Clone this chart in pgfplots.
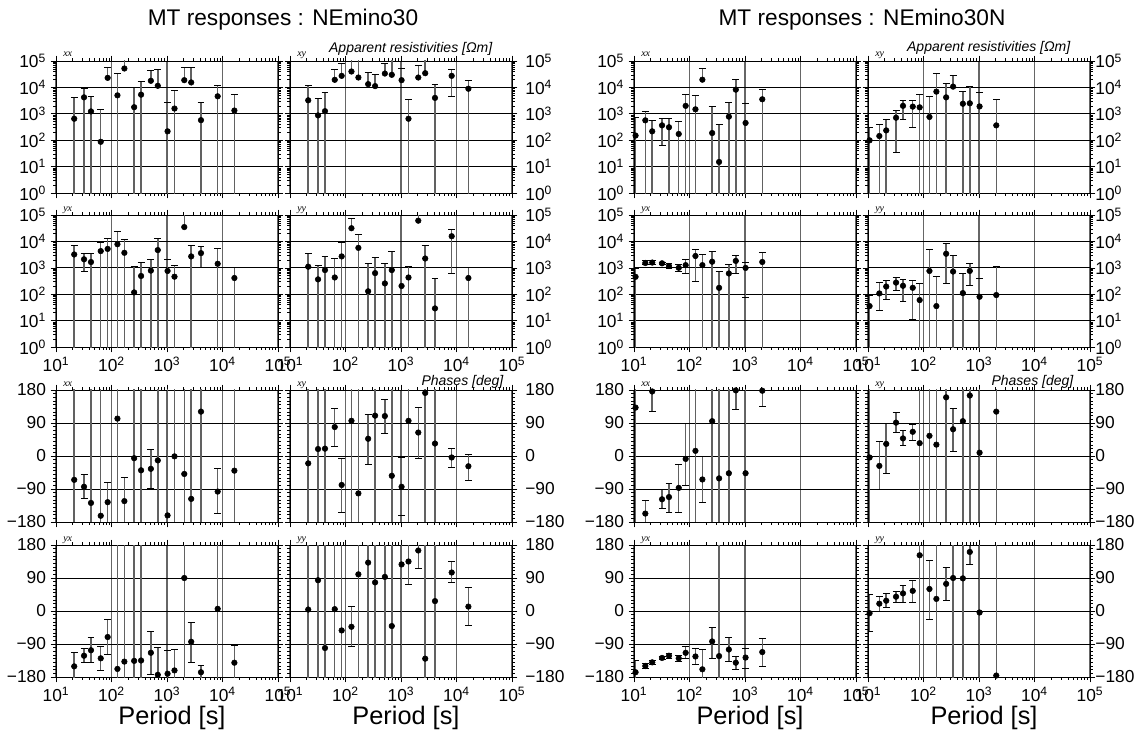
\documentclass[border=0pt]{standalone}
\usepackage{fontspec}
\setmainfont{Liberation Sans}
\newfontfamily\lserif{Liberation Serif}
\usepackage{pgfplots}
\pgfplotsset{compat=1.18}
\newcommand{\sq}[1]{10\textsuperscript{#1}}
\pgfplotsset{
 every axis/.append style={xmode=log, xmin=10, xmax=100000, xtick={10,100,1000,10000,100000},
   scale only axis, width=166.5pt, height=99pt,
   grid=major, x grid style={black!60, line width=0.9pt}, y grid style={black, line width=0.6pt},
   axis line style={black, line width=0.7pt},
   tick align=outside, major tick length=4pt, minor tick length=2.2pt,
   tick style={black, line width=0.45pt},
   tick label style={font=\fontsize{13}{14}\selectfont},
   cycle list={{black, mark=*, mark options={fill=black, draw=black}}},
   xticklabels={}, clip=true},
 every axis plot/.append style={only marks, mark=*, mark size=2.1pt,
   error bars/y dir=both, error bars/y explicit, error bars/error mark=|,
   error bars/error bar style={black!62, line width=1.1pt},
   error bars/error mark options={black, line width=0.6pt, mark size=2.6pt}},
 every axis plot post/.append style={black, mark options={fill=black, draw=black}},
}
\begin{document}
\begin{tikzpicture}
\path[use as bounding box] (0,0) rectangle (852pt,-551.25pt);
% ================= LEFT GROUP =================
\begin{axis}[ymode=log,ymin=1,ymax=100000,ytick={1,10,100,1000,10000,100000},yticklabels={\sq{0},\sq{1},\sq{2},\sq{3},\sq{4},\sq{5}},
  yticklabel pos=left,at={(42pt,-45.75pt)},anchor=north west]
\addplot table[x=T,y=v,y error plus expr=\thisrow{hi}-\thisrow{v},y error minus expr=\thisrow{v}-\thisrow{lo}] {
T v lo hi
21.3 650 0.001 4300
32 4200 0.001 9000
42.7 1230 0.001 4600
64 87 0.001 1500
85.3 23000 0.001 58000
128 5000 0.001 33000
170.7 52000 0.001 1e7
256 1780 0.001 10000
341.3 5300 0.001 17000
512 17800 0.001 43000
682.7 11500 0.001 49000
1024 217 0.001 2700
1365 1580 0.001 7700
2048 18800 0.001 58000
2731 15400 0.001 58000
4096 575 0.001 2800
8192 4600 0.001 12300
16384 1330 0.001 5200
};
\end{axis}
\begin{axis}[ymode=log,ymin=1,ymax=100000,ytick={1,10,100,1000,10000,100000},yticklabels={\sq{0},\sq{1},\sq{2},\sq{3},\sq{4},\sq{5}},
  yticklabel pos=right,yticklabel style={xshift=2.5pt},at={(217.5pt,-45.75pt)},anchor=north west]
\addplot table[x=T,y=v,y error plus expr=\thisrow{hi}-\thisrow{v},y error minus expr=\thisrow{v}-\thisrow{lo}] {
T v lo hi
21.3 3250 0.001 12300
32 870 0.001 4000
42.7 1260 0.001 6700
64 19400 0.001 49000
85.3 27400 0.001 82000
128 40000 0.001 1e7
170.7 23700 0.001 1e7
256 13300 0.001 37000
341.3 11200 0.001 31600
512 33500 0.001 82000
682.7 30000 0.001 1e7
1024 18800 0.001 52000
1365 650 0.001 3650
2048 23700 0.001 69000
2731 34500 0.001 1e7
4096 4000 0.001 13300
8192 27400 4700 49000
16384 8900 0.001 18400
};
\end{axis}
\begin{axis}[ymode=log,ymin=1,ymax=100000,ytick={1,10,100,1000,10000,100000},yticklabels={\sq{0},\sq{1},\sq{2},\sq{3},\sq{4},\sq{5}},
  xticklabels={\sq{1},\sq{2},\sq{3},\sq{4},\sq{5}},
  yticklabel pos=left,at={(42pt,-161.25pt)},anchor=north west]
\addplot table[x=T,y=v,y error plus expr=\thisrow{hi}-\thisrow{v},y error minus expr=\thisrow{v}-\thisrow{lo}] {
T v lo hi
21.3 3200 0.001 6900
32 2100 760 3500
42.7 1650 0.001 3500
64 4300 0.001 9300
85.3 5200 0.001 12500
128 7800 0.001 23500
170.7 3700 0.001 11800
256 117 0.001 1120
341.3 490 0.001 1650
512 780 0.001 2100
682.7 4700 0.001 12500
1024 760 0.001 2100
1365 460 0.001 1240
2048 35000 0.001 1e7
2731 2700 0.001 6900
4096 3600 1000 6200
8192 1420 0.001 5200
16384 410 0.001 1000
};
\end{axis}
\begin{axis}[ymode=log,ymin=1,ymax=100000,ytick={1,10,100,1000,10000,100000},yticklabels={\sq{0},\sq{1},\sq{2},\sq{3},\sq{4},\sq{5}},
  xticklabels={\sq{1},\sq{2},\sq{3},\sq{4},\sq{5}},
  yticklabel pos=right,yticklabel style={xshift=2.5pt},at={(217.5pt,-161.25pt)},anchor=north west]
\addplot table[x=T,y=v,y error plus expr=\thisrow{hi}-\thisrow{v},y error minus expr=\thisrow{v}-\thisrow{lo}] {
T v lo hi
21.3 1100 0.001 3500
32 365 0.001 1200
42.7 820 0.001 2600
64 430 0.001 2200
85.3 2700 0.001 9300
128 31600 0.001 75000
170.7 5700 0.001 19000
256 129 0.001 1470
341.3 630 0.001 2400
512 256 0.001 1470
682.7 820 0.001 4300
1024 205 0.001 1000
1365 430 0.001 1170
2048 61000 0.001 1e7
2731 2250 0.001 6900
4096 29 0.001 390
8192 15700 620 29000
16384 410 0.001 1000
};
\end{axis}
\begin{axis}[ymin=-180,ymax=180,ytick={-180,-90,0,90,180},minor y tick num=8,yticklabels={−180,−90,0,90,180},
  yticklabel pos=left,at={(42pt,-292.5pt)},anchor=north west]
\addplot table[x=T,y=v,y error plus expr=\thisrow{hi}-\thisrow{v},y error minus expr=\thisrow{v}-\thisrow{lo}] {
T v lo hi
21.3 -65 -999 999
32 -84 -117 -50
42.7 -128 -999 999
64 -163 -999 999
85.3 -126 -182 -72
128 102 -999 999
170.7 -123 -999 -58
256 -6 -999 999
341.3 -39 -999 999
512 -35 -89 17
682.7 -12 -999 999
1024 -162 -999 999
1365 -1 -999 999
2048 -49 -999 999
2731 -117 -999 999
4096 121 -999 999
8192 -97 -156 -35
16384 -40 -999 999
};
\end{axis}
\begin{axis}[ymin=-180,ymax=180,ytick={-180,-90,0,90,180},minor y tick num=8,yticklabels={−180,−90,0,90,180},
  yticklabel pos=right,yticklabel style={xshift=2.5pt},at={(217.5pt,-292.5pt)},anchor=north west]
\addplot table[x=T,y=v,y error plus expr=\thisrow{hi}-\thisrow{v},y error minus expr=\thisrow{v}-\thisrow{lo}] {
T v lo hi
21.3 -20 -999 999
32 19 -999 999
42.7 20 -999 999
64 79 25 130
85.3 -79 -153 -6
128 96 -999 999
170.7 -102 -999 999
256 47 -23 113
341.3 110 -999 999
512 109 61 154
682.7 -54 -999 999
1024 -84 -163 -3
1365 96 -999 999
2048 64 -6 133
2731 172 -999 999
4096 34 -999 999
8192 -4 -30 20
16384 -28 -67 4
};
\end{axis}
\begin{axis}[ymin=-180,ymax=180,ytick={-180,-90,0,90,180},minor y tick num=8,yticklabels={−180,−90,0,90,180},
  xticklabels={\sq{1},\sq{2},\sq{3},\sq{4},\sq{5}},
  yticklabel pos=left,at={(42pt,-408.75pt)},anchor=north west]
\addplot table[x=T,y=v,y error plus expr=\thisrow{hi}-\thisrow{v},y error minus expr=\thisrow{v}-\thisrow{lo}] {
T v lo hi
21.3 -151 -999 -112
32 -122 -141 -103
42.7 -107 -141 -73
64 -129 -162 -97
85.3 -71 -117 -23
128 -158 -999 999
170.7 -138 -999 999
256 -136 -999 999
341.3 -135 -999 999
512 -114 -172 -56
682.7 -174 -999 -100
1024 -171 -999 -107
1365 -162 -999 -104
2048 90 -999 999
2731 -84 -139 -30
4096 -167 -999 -148
8192 6 -999 999
16384 -141 -999 -95
};
\end{axis}
\begin{axis}[ymin=-180,ymax=180,ytick={-180,-90,0,90,180},minor y tick num=8,yticklabels={−180,−90,0,90,180},
  xticklabels={\sq{1},\sq{2},\sq{3},\sq{4},\sq{5}},
  yticklabel pos=right,yticklabel style={xshift=2.5pt},at={(217.5pt,-408.75pt)},anchor=north west]
\addplot table[x=T,y=v,y error plus expr=\thisrow{hi}-\thisrow{v},y error minus expr=\thisrow{v}-\thisrow{lo}] {
T v lo hi
21.3 4 -999 999
32 84 -999 999
42.7 -101 -999 999
64 5 -999 999
85.3 -53 -999 999
128 -43 -97 12
170.7 100 -999 999
256 132 -999 999
341.3 78 -999 999
512 93 -999 999
682.7 -41 -999 999
1024 127 -999 999
1365 135 73 181
2048 165 117 999
2731 -130 -999 999
4096 27 -999 999
8192 105 77 134
16384 12 -40 64
};
\end{axis}
% ================= RIGHT GROUP =================
\begin{axis}[ymode=log,ymin=1,ymax=100000,ytick={1,10,100,1000,10000,100000},yticklabels={\sq{0},\sq{1},\sq{2},\sq{3},\sq{4},\sq{5}},
  yticklabel pos=left,at={(475.5pt,-45.75pt)},anchor=north west]
\addplot table[x=T,y=v,y error plus expr=\thisrow{hi}-\thisrow{v},y error minus expr=\thisrow{v}-\thisrow{lo}] {
T v lo hi
10.67 150 0.001 760
16 565 0.001 1200
21.3 217 0.001 565
32 365 63 670
42.7 310 0.001 670
64 172 0.001 515
85.3 2000 0.001 5500
128 1480 0.001 5000
170.7 19600 0.001 53000
256 187 0.001 1870
341.3 15 0.001 400
512 780 0.001 2650
682.7 8200 0.001 19600
1024 450 0.001 2500
2048 3550 0.001 8200
};
\end{axis}
\begin{axis}[ymode=log,ymin=1,ymax=100000,ytick={1,10,100,1000,10000,100000},yticklabels={\sq{0},\sq{1},\sq{2},\sq{3},\sq{4},\sq{5}},
  yticklabel pos=right,yticklabel style={xshift=-3.5pt},at={(651pt,-45.75pt)},anchor=north west]
\addplot table[x=T,y=v,y error plus expr=\thisrow{hi}-\thisrow{v},y error minus expr=\thisrow{v}-\thisrow{lo}] {
T v lo hi
10.67 99 0.001 295
16 144 0.001 390
21.3 235 0.001 600
32 710 35 1350
42.7 2000 615 3250
64 1870 295 3250
85.3 1760 0.001 5500
128 760 0.001 4600
170.7 6900 0.001 34000
256 4200 0.001 14200
341.3 10700 0.001 28700
512 2400 0.001 7100
682.7 2500 0.001 11000
1024 1900 0.001 6500
2048 365 0.001 3550
};
\end{axis}
\begin{axis}[ymode=log,ymin=1,ymax=100000,ytick={1,10,100,1000,10000,100000},yticklabels={\sq{0},\sq{1},\sq{2},\sq{3},\sq{4},\sq{5}},
  xticklabels={\sq{1},\sq{2},\sq{3},\sq{4},\sq{5}},
  yticklabel pos=left,at={(475.5pt,-161.25pt)},anchor=north west]
\addplot table[x=T,y=v,y error plus expr=\thisrow{hi}-\thisrow{v},y error minus expr=\thisrow{v}-\thisrow{lo}] {
T v lo hi
10.67 455 0.001 960
16 1520 1320 1900
21.3 1580 1350 1870
32 1480 1350 1620
42.7 1170 940 1480
64 1000 760 1400
85.3 1260 640 2100
128 2800 295 5000
170.7 1260 0.001 3250
256 1700 0.001 4200
341.3 174 0.001 740
512 610 0.001 1350
682.7 1820 590 2950
1024 990 76 1660
2048 1660 0.001 3700
};
\end{axis}
\begin{axis}[ymode=log,ymin=1,ymax=100000,ytick={1,10,100,1000,10000,100000},yticklabels={\sq{0},\sq{1},\sq{2},\sq{3},\sq{4},\sq{5}},
  xticklabels={\sq{1},\sq{2},\sq{3},\sq{4},\sq{5}},
  yticklabel pos=right,yticklabel style={xshift=-3.5pt},at={(651pt,-161.25pt)},anchor=north west]
\addplot table[x=T,y=v,y error plus expr=\thisrow{hi}-\thisrow{v},y error minus expr=\thisrow{v}-\thisrow{lo}] {
T v lo hi
10.67 35.5 0.001 93
16 107 24 270
21.3 195 62 340
32 275 145 425
42.7 208 54 370
64 175 11 330
85.3 60 0.001 265
128 760 0.001 5000
170.7 35.5 0.001 455
256 3400 255 8100
341.3 720 0.001 2900
512 110 0.001 590
682.7 760 220 1520
1024 80 0.001 400
2048 93 0.001 1140
};
\end{axis}
\begin{axis}[ymin=-180,ymax=180,ytick={-180,-90,0,90,180},minor y tick num=8,yticklabels={−180,−90,0,90,180},
  yticklabel pos=left,at={(475.5pt,-292.5pt)},anchor=north west]
\addplot table[x=T,y=v,y error plus expr=\thisrow{hi}-\thisrow{v},y error minus expr=\thisrow{v}-\thisrow{lo}] {
T v lo hi
10.67 132 -999 999
16 -157 -999 -120
21.3 176 122 999
32 -118 -142 -91
42.7 -112 -154 -74
64 -87 -153 -23
85.3 -8 -79 89
128 14 -999 999
170.7 -64 -126 -2
256 95 -999 999
341.3 -61 -999 999
512 -47 -999 999
682.7 179 126 999
1024 -47 -999 999
2048 178 135 999
};
\end{axis}
\begin{axis}[ymin=-180,ymax=180,ytick={-180,-90,0,90,180},minor y tick num=8,yticklabels={−180,−90,0,90,180},
  yticklabel pos=right,yticklabel style={xshift=-3.5pt},at={(651pt,-292.5pt)},anchor=north west]
\addplot table[x=T,y=v,y error plus expr=\thisrow{hi}-\thisrow{v},y error minus expr=\thisrow{v}-\thisrow{lo}] {
T v lo hi
10.67 -4 -999 999
16 -27 -91 39
21.3 33 -47 89
32 91 63 118
42.7 48 28 69
64 66 42 87
85.3 35 -999 999
128 55 -999 999
170.7 31 -999 999
256 160 -999 999
341.3 73 12 131
512 95 -999 999
682.7 165 -999 999
1024 9 -999 999
2048 121 -999 999
};
\end{axis}
\begin{axis}[ymin=-180,ymax=180,ytick={-180,-90,0,90,180},minor y tick num=8,yticklabels={−180,−90,0,90,180},
  xticklabels={\sq{1},\sq{2},\sq{3},\sq{4},\sq{5}},
  yticklabel pos=left,at={(475.5pt,-408.75pt)},anchor=north west]
\addplot table[x=T,y=v,y error plus expr=\thisrow{hi}-\thisrow{v},y error minus expr=\thisrow{v}-\thisrow{lo}] {
T v lo hi
10.67 -167 -999 -136
16 -150 -157 -142
21.3 -140 -146 -134
32 -128 -132 -125
42.7 -122 -129 -116
64 -129 -137 -121
85.3 -114 -130 -97
128 -124 -146 -103
170.7 -159 -999 -106
256 -83 -128 -44
341.3 -123 -999 999
512 -105 -138 -71
682.7 -141 -159 -123
1024 -127 -156 -101
2048 -112 -151 -76
};
\end{axis}
\begin{axis}[ymin=-180,ymax=180,ytick={-180,-90,0,90,180},minor y tick num=8,yticklabels={−180,−90,0,90,180},
  xticklabels={\sq{1},\sq{2},\sq{3},\sq{4},\sq{5}},
  yticklabel pos=right,yticklabel style={xshift=-3.5pt},at={(651pt,-408.75pt)},anchor=north west]
\addplot table[x=T,y=v,y error plus expr=\thisrow{hi}-\thisrow{v},y error minus expr=\thisrow{v}-\thisrow{lo}] {
T v lo hi
10.67 -6 -56 45
16 20 -2 41
21.3 28 10 47
32 39 23 54
42.7 48 23 70
64 55 24 83
85.3 152 -999 999
128 60 -22 139
170.7 33 -999 999
256 74 28 118
341.3 90 -999 999
512 89 -999 999
682.7 161 128 179
1024 -4 -999 999
2048 -176 -999 999
};
\end{axis}
% ================= TEXT =================
\node[font=\fontsize{17}{19}\selectfont] at (212.25pt,-15pt) {MT responses : NEmino30};
\node[font=\fontsize{17}{19}\selectfont] at (646.5pt,-15pt) {MT responses : NEmino30N};
\node[anchor=base east, font=\fontsize{10.5}{12}\selectfont\itshape] at (372.75pt,-39.5pt) {Apparent resistivities [Ωm]};
\node[anchor=base east, font=\fontsize{10.5}{12}\selectfont\itshape] at (806.25pt,-39pt) {Apparent resistivities [Ωm]};
\node[anchor=base east, font=\fontsize{10.5}{12}\selectfont\itshape] at (381pt,-288.75pt) {Phases [deg]};
\node[anchor=base east, font=\fontsize{10.5}{12}\selectfont\itshape] at (808.5pt,-288.75pt) {Phases [deg]};
\foreach \xx/\yy/\lab in {47.25/-42.75/xx, 222.75/-42.75/xy, 47.25/-158.25/yx, 222.75/-158.25/yy,
  47.25/-289.5/xx, 222.75/-289.5/xy, 47.25/-405.75/yx, 222.75/-405.75/yy,
  480.75/-42.75/xx, 656.25/-42.75/xy, 480.75/-158.25/yx, 656.25/-158.25/yy,
  480.75/-289.5/xx, 656.25/-289.5/xy, 480.75/-405.75/yx, 656.25/-405.75/yy}
  \node[anchor=base west, inner sep=0pt, font=\lserif\itshape\fontsize{7.5}{8}\selectfont] at (\xx pt,\yy pt) {\lab};
\foreach \xx in {129, 304.5, 562.5, 738}
  \node[font=\fontsize{19}{21}\selectfont] at (\xx pt,-538.5pt) {Period [s]};
\end{tikzpicture}
\end{document}
